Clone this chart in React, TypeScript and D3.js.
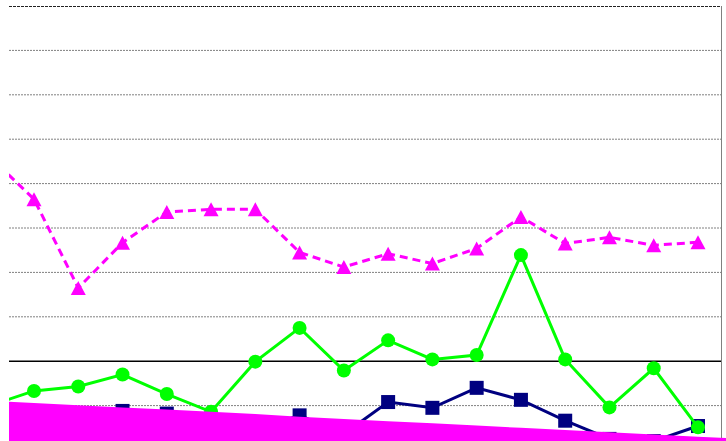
import React from 'react';
import * as d3 from 'd3';

// categories: the first one sits just left of the visible plot
const categories = [-1, 0, 1, 2, 3, 4, 5, 6, 7, 8, 9, 10, 11, 12, 13, 14, 15];
const areaCategories = [...categories, 16];

const magentaSeries = [66.1, 56.5, 36.5, 46.7, 53.6, 54.2, 54.2, 44.5, 41.2, 44.2, 42.0, 45.4, 52.5, 46.5, 47.9, 46.1, 46.8];
const greenSeries = [10.0, 13.3, 14.3, 17.0, 12.6, 8.6, 19.9, 27.5, 17.9, 24.7, 20.4, 21.4, 43.9, 20.4, 9.6, 18.4, 5.1];
const navySeries = [5.6, 6.3, 7.2, 8.8, 8.2, 5.0, 4.5, 7.8, 3.6, 10.8, 9.5, 14.0, 11.3, 6.6, 2.5, 2.0, 5.4];
const areaSeries = [11.1, 10.6, 10.1, 9.6, 9.1, 8.6, 8.1, 7.5, 7.0, 6.5, 6.0, 5.5, 5.0, 4.5, 4.0, 3.5, 3.0, 2.5];

const gridValues = [10, 30, 40, 50, 60, 70, 80, 90];
const baseValue = 20;
const topValue = 100;

const width = 726;
const height = 441;
const plotLeft = 9;
const plotRight = 721;

export default function App() {
  const xScale = d3.scaleLinear().domain([0, 15]).range([34, 698]);
  const yScale = d3.scaleLinear().domain([0, 100]).range([450, 6]);

  const line = (vals: number[]) =>
    d3.line<number>()
      .x((_, i) => xScale(categories[i]))
      .y((d) => yScale(d))(vals) as string;

  const area = d3.area<number>()
    .x((_, i) => xScale(areaCategories[i]))
    .y0(yScale(0))
    .y1((d) => yScale(d))(areaSeries) as string;

  const tri = (cx: number, cy: number) =>
    `M${cx},${cy - 7}L${cx + 7.5},${cy + 7}L${cx - 7.5},${cy + 7}Z`;

  return (
    <svg width={width} height={height} style={{ position: 'fixed', left: 0, top: 0 }}>
      <defs>
        <clipPath id="plot">
          <rect x={plotLeft} y={0} width={plotRight - plotLeft} height={height} />
        </clipPath>
        <clipPath id="wide">
          <rect x={plotLeft} y={0} width={width - plotLeft} height={height} />
        </clipPath>
      </defs>
      <rect width={width} height={height} fill="#fff" />

      {gridValues.map((v) => (
        <line key={v} x1={plotLeft} x2={plotRight} y1={yScale(v)} y2={yScale(v)}
          stroke="#808080" strokeWidth={1} strokeDasharray="2,1" />
      ))}
      <line x1={plotLeft} x2={plotRight} y1={yScale(topValue) + 0.5} y2={yScale(topValue) + 0.5}
        stroke="#222" strokeWidth={1} strokeDasharray="3,1" />
      <line x1={plotLeft} x2={plotRight} y1={yScale(baseValue)} y2={yScale(baseValue)}
        stroke="#000" strokeWidth={1.5} />
      <line x1={plotRight + 0.5} x2={plotRight + 0.5} y1={yScale(topValue)} y2={height}
        stroke="#808080" strokeWidth={1} />

      <g clipPath="url(#plot)">
        <path d={line(navySeries)} fill="none" stroke="#000080" strokeWidth={3} />
        {navySeries.map((v, i) => (
          <rect key={i} x={xScale(categories[i]) - 7} y={yScale(v) - 7} width={14} height={14} fill="#000080" />
        ))}

        <path d={line(greenSeries)} fill="none" stroke="#00ff00" strokeWidth={3} />
        {greenSeries.map((v, i) => (
          <circle key={i} cx={xScale(categories[i])} cy={yScale(v)} r={7} fill="#00ff00" />
        ))}

        <path d={line(magentaSeries)} fill="none" stroke="#ff00ff" strokeWidth={3} strokeDasharray="8,5" />
        {magentaSeries.map((v, i) => (
          <path key={i} d={tri(xScale(categories[i]), yScale(v))} fill="#ff00ff" />
        ))}
      </g>

      <g clipPath="url(#wide)">
        <path d={area} fill="#ff00ff" />
      </g>
    </svg>
  );
}
